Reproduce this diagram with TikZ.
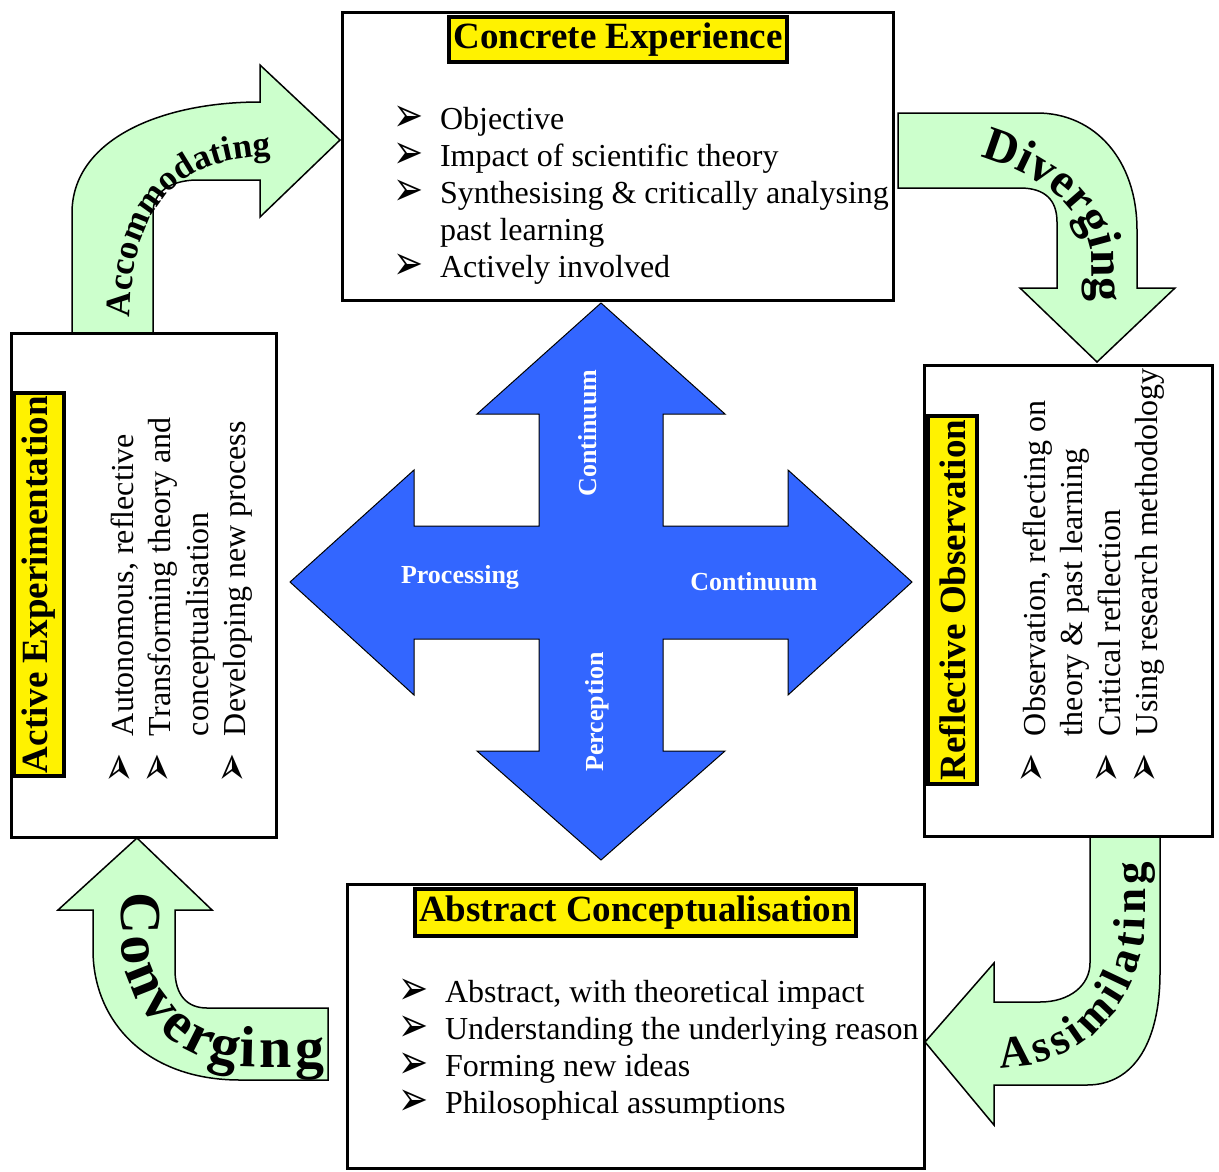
\documentclass[tikz,border=0pt]{standalone}
\usepackage{fontspec}
\usepackage{graphicx}
\setmainfont{Liberation Serif}
\newfontfamily\dvfont{DejaVu Sans}
\usetikzlibrary{decorations.text}
\definecolor{lightgreen}{HTML}{CCFFCC}
\definecolor{crossblue}{HTML}{3366FF}
\newcommand\arrowbullet{\makebox[47pt][l]{\smash{\raisebox{-1.5pt}{\scalebox{1.5}[2.0]{\dvfont\fontsize{24}{24}\selectfont ➢}}}}}
\newcommand\bulletindent{\hspace*{47pt}}
\begin{document}
\begin{tikzpicture}[x=1pt,y=-1pt,
  greenarrow/.style={fill=lightgreen, draw=black, line width=1.5pt, line join=miter},
  crossshape/.style={fill=crossblue, draw=black, line width=1pt, line join=miter},
  mainbox/.style={draw=black, line width=3pt, fill=white, inner sep=0pt},
  titlebox/.style={draw=black, line width=3.5pt, fill=yellow, inner sep=0pt,
    font=\fontsize{37}{37}\selectfont\bfseries},
  bodytext/.style={inner sep=0pt, outer sep=0pt, align=left,
    font=\fontsize{32}{37}\selectfont},
  rotbodytext/.style={inner sep=0pt, outer sep=0pt, align=left,
    font=\fontsize{32}{37.5}\selectfont},
  crosslabel/.style={text=white, inner sep=0pt, font=\fontsize{26}{26}\selectfont\bfseries}
]
\useasboundingbox (0,0) rectangle (1219,1171);

% ---------- green curved arrows ----------
% Accommodating
\draw[greenarrow] (72,333) -- (72,213) .. controls (72,140) and (160,102) .. (260,102)
  -- (260,65) -- (340,140) -- (260,217) -- (260,180) -- (195,180)
  .. controls (170,181) and (153,192) .. (153,213) -- (153,333) -- cycle;
% Diverging
\draw[greenarrow] (898,113) -- (1037,113) .. controls (1095,113) and (1137,160) .. (1137,230)
  -- (1137,288) -- (1175,288) -- (1097,362) -- (1020,288) -- (1057,288) -- (1057,222)
  .. controls (1057,200) and (1045,188) .. (1020,188) -- (898,188) -- cycle;
% Assimilating
\draw[greenarrow] (1090,836) -- (1160,836) -- (1160,973)
  .. controls (1160,1040) and (1135,1085) .. (1087,1085) -- (994,1085) -- (994,1125)
  -- (925,1042) -- (994,963) -- (994,1002) -- (1040,1002)
  .. controls (1070,1002) and (1090,985) .. (1090,963) -- cycle;
% Converging
\draw[greenarrow] (93,910) -- (58,910) -- (137,838) -- (212,910) -- (175,910) -- (175,970)
  .. controls (175,995) and (187,1008) .. (207,1008) -- (328,1008) -- (328,1080)
  -- (240,1080) .. controls (145,1080) and (93,1020) .. (93,950) -- cycle;

% curved labels
\path[decorate, decoration={text along path, text align=center,
  text={|\fontsize{35}{35}\selectfont\bfseries|Accommodating}}]
  (130,324) .. controls (130,220) and (165,156) .. (278,156);
\path[decorate, decoration={text along path, text align=center,
  text={|\fontsize{48}{48}\selectfont\bfseries|Diverging}}]
  (976,156) .. controls (1040,172) and (1092,212) .. (1092,265) -- (1092,306);
\path[decorate, decoration={text along path, text align=fit to path,
  text={|\fontsize{45}{45}\selectfont\bfseries|Assimilating}}]
  (1000,1068) .. controls (1083,1068) and (1145,1001) .. (1145,918) -- (1145,862);
\path[decorate, decoration={text along path, text align=fit to path,
  text={|\fontsize{58}{58}\selectfont\bfseries|Converging}}]
  (121,892) -- (121,937) .. controls (121,1009) and (179,1067) .. (251,1067) -- (324,1067);

% ---------- main boxes ----------
\node[mainbox, minimum width=551pt, minimum height=288pt] (ce) at (617.5,156) {};
\node[mainbox, minimum width=265pt, minimum height=504pt] (ae) at (143.5,585) {};
\node[mainbox, minimum width=288pt, minimum height=471pt] (ro) at (1068,600.5) {};
\node[mainbox, minimum width=577pt, minimum height=284pt] (ac) at (635.5,1026) {};

% ---------- titles ----------
\node[titlebox, minimum width=338pt, minimum height=45pt] (cetitle) at (618,39.5) {Concrete Experience};
\node[titlebox, minimum width=441pt, minimum height=47pt] (actitle) at (635.5,912.5) {Abstract Conceptualisation};
\node[titlebox, rotate=90, minimum width=383pt, minimum height=50pt] (aetitle) at (39,584.5) {Active Experimentation};
\node[titlebox, rotate=90, minimum width=368pt, minimum height=49pt] (rotitle) at (952.5,600) {Reflective Observation};

% ---------- lists ----------
\node[bodytext, anchor=north west] (celist) at (393,104) {%
  \begin{tabular}{@{}l@{}}
  \arrowbullet Objective\\
  \arrowbullet Impact of scientific theory\\
  \arrowbullet Synthesising \& critically analysing\\
  \bulletindent past learning\\
  \arrowbullet Actively involved
  \end{tabular}};
\node[bodytext, anchor=north west] (aclist) at (398,977) {%
  \begin{tabular}{@{}l@{}}
  \arrowbullet Abstract, with theoretical impact\\
  \arrowbullet Understanding the underlying reason\\
  \arrowbullet Forming new ideas\\
  \arrowbullet Philosophical assumptions
  \end{tabular}};
\node[rotbodytext, rotate=90, anchor=north west] (aelist) at (107,783) {%
  \begin{tabular}{@{}l@{}}
  \arrowbullet Autonomous, reflective\\
  \arrowbullet Transforming theory and\\
  \bulletindent conceptualisation\\
  \arrowbullet Developing new process
  \end{tabular}};
\node[rotbodytext, rotate=90, anchor=north west] (rolist) at (1019,783) {%
  \begin{tabular}{@{}l@{}}
  \arrowbullet Observation, reflecting on\\
  \bulletindent theory \& past learning\\
  \arrowbullet Critical reflection\\
  \arrowbullet Using research methodology
  \end{tabular}};

% ---------- central cross ----------
\draw[crossshape] (601,303) -- (725,414) -- (663,414) -- (663,526) -- (788,526) -- (788,470)
  -- (912,582) -- (788,695) -- (788,639) -- (663,639) -- (663,751) -- (725,751)
  -- (601,860) -- (477,751) -- (539,751) -- (539,639) -- (414,639) -- (414,695)
  -- (290,582) -- (414,470) -- (414,526) -- (539,526) -- (539,414) -- (477,414) -- cycle;
\node[crosslabel] (processing) at (460,577) {Processing};
\node[crosslabel] (contright) at (754,582) {Continuum};
\node[crosslabel, rotate=90] (conttop) at (588,433) {Continuum};
\node[crosslabel, rotate=90] (perception) at (597,712) {Perception};
\end{tikzpicture}
\end{document}
